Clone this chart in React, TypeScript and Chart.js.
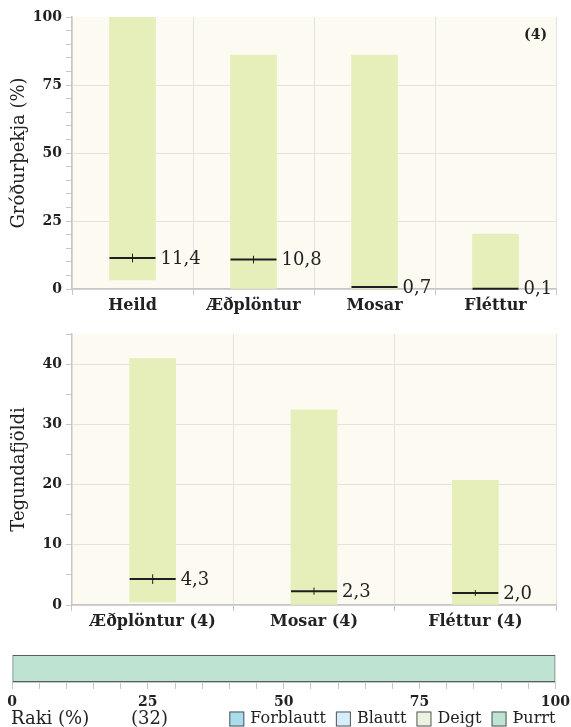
import React, { useEffect, useRef } from 'react';
import { Chart, registerables } from 'chart.js';

Chart.register(...registerables);

// ---------- data ----------
const coverCategories = ['Heild', 'Æðplöntur', 'Mosar', 'Fléttur'];
const coverMin = [3.3, 0, 0, 0];
const coverMax = [100, 86, 86, 20.2];
const coverMean = [11.4, 10.8, 0.7, 0.1];
const coverErr = [1.6, 1.4, 0.2, 0.05];
const coverCount = '(4)';

const richCategories = ['Æðplöntur (4)', 'Mosar (4)', 'Fléttur (4)'];
const richMin = [0.5, 0, 0];
const richMax = [40.9, 32.4, 20.7];
const richMean = [4.3, 2.3, 2.0];
const richErr = [0.8, 0.6, 0.5];

const moistureClasses = ['Forblautt', 'Blautt', 'Deigt', 'Þurrt'];
const moistureValues = [0, 0, 0, 100];
const moistureColors = ['#A9DCEC', '#D5EEF9', '#E9F3E0', '#BFE3D2'];
const moistureCount = '(32)';

// ---------- styles ----------
const FAMILY = '"DejaVu Serif", serif';
const TEXT = '#222222';
const GRID = '#E3E3E3';
const AXIS = '#C6C6C6';
const PLOT_BG = '#FCFAF1';
const BAR = '#E6EEB9';

const fmt = (v: number) => v.toFixed(1).replace('.', ',');

const plotBackground = {
  id: 'plotBackground',
  beforeDraw(chart: any) {
    const { ctx, chartArea } = chart;
    if (!chartArea) return;
    ctx.save();
    ctx.fillStyle = PLOT_BG;
    ctx.fillRect(chartArea.left, chartArea.top, chartArea.right - chartArea.left, chartArea.bottom - chartArea.top);
    ctx.restore();
  },
};

function meanMarkers(means: number[], errs: number[]) {
  return {
    id: 'meanMarkers',
    afterDatasetsDraw(chart: any) {
      const { ctx } = chart;
      const meta = chart.getDatasetMeta(0);
      const y = chart.scales.y;
      ctx.save();
      meta.data.forEach((bar: any, i: number) => {
        const { x, width } = bar.getProps(['x', 'width'], true);
        const half = width / 2;
        const yp = y.getPixelForValue(means[i]);
        ctx.strokeStyle = '#1E1E1E';
        ctx.lineWidth = 2;
        ctx.beginPath();
        ctx.moveTo(x - half, yp);
        ctx.lineTo(x + half, yp);
        ctx.stroke();
        const e1 = y.getPixelForValue(means[i] - errs[i]);
        const e2 = y.getPixelForValue(means[i] + errs[i]);
        ctx.lineWidth = 1;
        ctx.beginPath();
        ctx.moveTo(x, e1);
        ctx.lineTo(x, e2);
        ctx.stroke();
        ctx.fillStyle = TEXT;
        ctx.font = `18px ${FAMILY}`;
        ctx.textAlign = 'left';
        ctx.textBaseline = 'middle';
        ctx.fillText(fmt(means[i]), x + half + 5, yp + 1);
      });
      ctx.restore();
    },
  };
}

function cornerLabel(text: string) {
  return {
    id: 'cornerLabel',
    afterDraw(chart: any) {
      const { ctx, chartArea } = chart;
      ctx.save();
      ctx.fillStyle = TEXT;
      ctx.font = `bold 14px ${FAMILY}`;
      ctx.textAlign = 'right';
      ctx.textBaseline = 'middle';
      ctx.fillText(text, chartArea.right - 9, chartArea.top + 18);
      ctx.restore();
    },
  };
}

const moistureFooter = {
  id: 'moistureFooter',
  afterDraw(chart: any) {
    const { ctx, chartArea } = chart;
    const yMid = chartArea.bottom + 37;
    ctx.save();
    ctx.fillStyle = TEXT;
    ctx.textBaseline = 'middle';
    ctx.textAlign = 'left';
    ctx.font = `18px ${FAMILY}`;
    ctx.fillText('Raki (%)', chartArea.left - 1, yMid);
    ctx.fillText(moistureCount, chartArea.left + 119, yMid);
    // legend, right aligned to the plot's right edge
    ctx.font = `16px ${FAMILY}`;
    let x = chartArea.right;
    const ds = chart.data.datasets;
    for (let i = ds.length - 1; i >= 0; i--) {
      const label = ds[i].label as string;
      const w = ctx.measureText(label).width;
      const textStart = x - w;
      ctx.fillStyle = TEXT;
      ctx.fillText(label, textStart, yMid);
      const boxLeft = textStart - 6 - 15;
      ctx.fillStyle = ds[i].backgroundColor;
      ctx.fillRect(boxLeft, yMid - 7.5, 15, 15);
      ctx.strokeStyle = '#555555';
      ctx.lineWidth = 1;
      ctx.strokeRect(boxLeft + 0.5, yMid - 7, 14, 14);
      x = boxLeft - 10;
    }
    ctx.restore();
  },
};

const tickFont = { family: FAMILY, size: 14, weight: 'bold' as const };
const catFont = { family: FAMILY, size: 16, weight: 'bold' as const };
const titleFont = { family: FAMILY, size: 18 };

function rangeChartConfig(
  labels: string[],
  mins: number[],
  maxs: number[],
  means: number[],
  errs: number[],
  yMax: number,
  majorStep: number,
  title: string,
  padTop: number,
  xHeight: number,
  extraPlugins: any[]
) {
  return {
    type: 'bar',
    data: {
      labels,
      datasets: [
        {
          data: labels.map((_, i) => [mins[i], maxs[i]]),
          backgroundColor: BAR,
          borderWidth: 0,
          barThickness: 46,
        },
      ],
    },
    options: {
      animation: false,
      responsive: true,
      maintainAspectRatio: false,
      layout: { padding: { top: padTop, right: 15, left: 0, bottom: 0 } },
      plugins: { legend: { display: false }, tooltip: { enabled: false } },
      scales: {
        x: {
          grid: { color: GRID, tickColor: AXIS, tickLength: 6, offset: true },
          border: { color: AXIS, width: 1.5 },
          ticks: { color: TEXT, font: catFont, padding: 1, maxRotation: 0 },
          afterFit: (s: any) => {
            s.height = xHeight;
          },
        },
        y: {
          min: 0,
          max: yMax,
          ticks: {
            stepSize: 5,
            autoSkip: false,
            color: TEXT,
            font: tickFont,
            padding: 4,
            callback: (v: any) => (v % majorStep === 0 ? String(v) : ''),
          },
          grid: {
            color: (c: any) =>
              c.tick && c.tick.value % majorStep === 0 && c.tick.value !== yMax ? GRID : 'rgba(0,0,0,0)',
            tickColor: AXIS,
            tickLength: 6,
          },
          border: { color: AXIS, width: 1.5 },
          title: { display: true, text: title, color: TEXT, font: titleFont, padding: { top: 9, bottom: 0 } },
          afterFit: (s: any) => {
            s.width = 72;
          },
        },
      },
    },
    plugins: [plotBackground, meanMarkers(means, errs), ...extraPlugins],
  };
}

function moistureConfig() {
  return {
    type: 'bar',
    data: {
      labels: ['Raki'],
      datasets: moistureClasses.map((c, i) => ({
        label: c,
        data: [moistureValues[i]],
        backgroundColor: moistureColors[i],
        borderColor: '#333333',
        borderWidth: moistureValues[i] > 0 ? 1 : 0,
        borderSkipped: false,
        barPercentage: 1,
        categoryPercentage: 1,
      })),
    },
    options: {
      indexAxis: 'y',
      animation: false,
      responsive: true,
      maintainAspectRatio: false,
      layout: { padding: { top: 19, left: 12, right: 12, bottom: 0 } },
      plugins: { legend: { display: false }, tooltip: { enabled: false } },
      scales: {
        x: {
          stacked: true,
          min: 0,
          max: 100,
          ticks: {
            stepSize: 5,
            autoSkip: false,
            maxRotation: 0,
            color: TEXT,
            font: { family: FAMILY, size: 14, weight: 'bold' as const, lineHeight: 1.8 },
            padding: 1,
            callback: (v: any) => (v % 25 === 0 ? String(v) : ''),
          },
          grid: { drawOnChartArea: false, tickColor: AXIS, tickLength: 7 },
          border: { color: AXIS },
          afterFit: (s: any) => {
            s.height = 45;
          },
        },
        y: { stacked: true, display: false },
      },
    },
    plugins: [moistureFooter],
  };
}

function ChartBox({ make, top, height }: { make: () => any; top: number; height: number }) {
  const ref = useRef<HTMLCanvasElement | null>(null);
  useEffect(() => {
    if (!ref.current) return;
    const chart = new Chart(ref.current, make());
    return () => chart.destroy();
  }, []);
  return (
    <div style={{ position: 'absolute', left: 0, top, width: 571, height }}>
      <canvas ref={ref} />
    </div>
  );
}

export default function App() {
  return (
    <div style={{ position: 'absolute', left: 0, top: 0, width: 571, height: 727, overflow: 'hidden', background: '#fff' }}>
      <ChartBox
        top={0}
        height={318}
        make={() =>
          rangeChartConfig(coverCategories, coverMin, coverMax, coverMean, coverErr, 100, 25, 'Gróðurþekja (%)', 17, 29, [
            cornerLabel(coverCount),
          ])
        }
      />
      <ChartBox
        top={318}
        height={318}
        make={() => rangeChartConfig(richCategories, richMin, richMax, richMean, richErr, 45, 10, 'Tegundafjöldi', 16, 31, [])}
      />
      <ChartBox top={636} height={91} make={moistureConfig} />
    </div>
  );
}
